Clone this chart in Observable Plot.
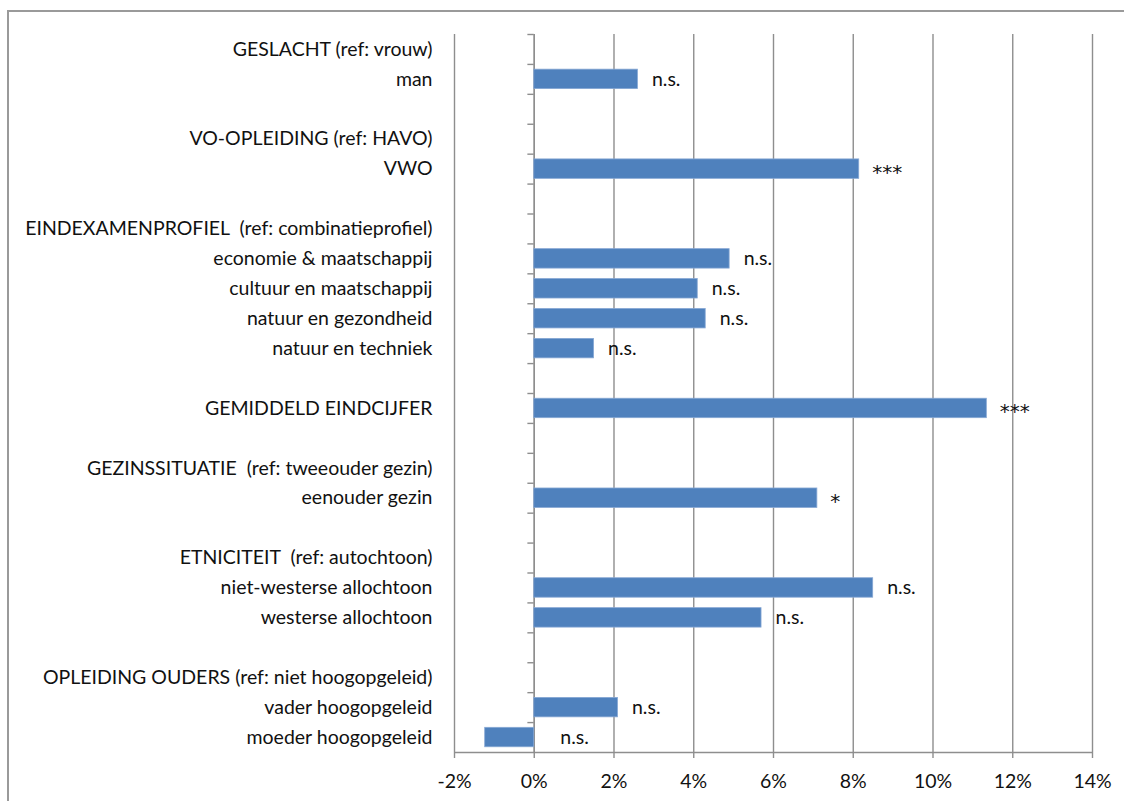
<!DOCTYPE html>
<html>
<head>
<meta charset="utf-8">
<script src="https://cdn.jsdelivr.net/npm/d3@7"></script>
<script src="https://cdn.jsdelivr.net/npm/@observablehq/plot@0.6"></script>
<style>
  html, body { margin: 0; padding: 0; background: #fff; overflow: hidden; }
  #wrap { position: relative; width: 1124px; height: 801px; }
  #border { position: absolute; left: 7px; top: 10px; width: 1200px; height: 900px;
            border-left: 2px solid #9a9a9a; border-top: 2px solid #9a9a9a; box-sizing: border-box; }
  #chart { position: absolute; left: 0; top: 0; }
</style>
</head>
<body>
<div id="wrap"><div id="border"></div><div id="chart"></div></div>
<script>
// Row labels (top to bottom); empty strings are spacer rows
const rowLabels = [
  "GESLACHT (ref: vrouw)", "man", "",
  "VO-OPLEIDING (ref: HAVO)", "VWO", "",
  "EINDEXAMENPROFIEL  (ref: combinatieprofiel)", "economie & maatschappij", "cultuur en maatschappij",
  "natuur en gezondheid", "natuur en techniek", "",
  "GEMIDDELD EINDCIJFER", "",
  "GEZINSSITUATIE  (ref: tweeouder gezin)", "eenouder gezin", "",
  "ETNICITEIT  (ref: autochtoon)", "niet-westerse allochtoon", "westerse allochtoon", "",
  "OPLEIDING OUDERS (ref: niet hoogopgeleid)", "vader hoogopgeleid", "moeder hoogopgeleid"
];
// Bars: category and value (%)
const barCategories = [
  "man", "VWO", "economie & maatschappij", "cultuur en maatschappij", "natuur en gezondheid",
  "natuur en techniek", "GEMIDDELD EINDCIJFER", "eenouder gezin", "niet-westerse allochtoon",
  "westerse allochtoon", "vader hoogopgeleid", "moeder hoogopgeleid"
];
const barValues = [2.6, 8.15, 4.9, 4.1, 4.3, 1.5, 11.35, 7.1, 8.5, 5.7, 2.1, -1.23];
const significance = ["n.s.", "***", "n.s.", "n.s.", "n.s.", "n.s.", "***", "*", "n.s.", "n.s.", "n.s.", "n.s."];
const xTicks = [-2, 0, 2, 4, 6, 8, 10, 12, 14];

const bars = barCategories.map((c, k) => ({
  label: c, row: rowLabels.indexOf(c), value: barValues[k], sig: significance[k]
}));
const labelRows = rowLabels.map((l, i) => i).filter(i => rowLabels[i] !== "");
const boundaries = d3.range(-0.5, rowLabels.length - 1, 1);
const bottom = rowLabels.length - 0.5;
const grey = "#8e8e8e";
const font = "Lato, 'Open Sans', sans-serif";
const fs = 19.5;

const chart = Plot.plot({
  width: 1124,
  height: 801,
  marginLeft: 454,
  marginRight: 32,
  marginTop: 34,
  marginBottom: 49,
  style: { fontFamily: font, fontSize: fs + "px", color: "#111", background: "transparent" },
  x: { domain: [-2, 14] },
  y: { domain: [-0.5, bottom], reverse: true },
  marks: [
    Plot.gridX(xTicks, { stroke: grey, strokeOpacity: 1, strokeWidth: 1.4 }),
    Plot.ruleY([bottom], { stroke: grey, strokeWidth: 1.4 }),
    Plot.ruleX([0], { stroke: grey, strokeWidth: 1.4 }),
    Plot.ruleY(boundaries, { x1: -0.16, x2: 0, stroke: grey, strokeWidth: 1.4 }),
    Plot.rect(bars, {
      x1: 0, x2: "value",
      y1: d => d.row - 0.325, y2: d => d.row + 0.325,
      fill: "#4f81bd", stroke: "#86a7d4", strokeWidth: 0.8
    }),
    Plot.text(bars.filter(d => d.sig === "n.s." && d.value >= 0), {
      x: "value", y: "row", text: "sig",
      dx: 14, textAnchor: "start", fontSize: fs, fill: "#111"
    }),
    Plot.text(bars.filter(d => d.sig === "n.s." && d.value < 0), {
      x: 0, y: "row", text: "sig",
      dx: 26, textAnchor: "start", fontSize: fs, fill: "#111"
    }),
    Plot.text(bars.filter(d => d.sig !== "n.s."), {
      x: d => Math.max(d.value, 0), y: "row", text: "sig",
      dx: 13, dy: 3, textAnchor: "start", fontSize: 20, fontFamily: "'DejaVu Sans', sans-serif",
      letterSpacing: "3px", fill: "#111"
    }),
    Plot.axisX(xTicks, {
      tickFormat: d => d + "%", tickSize: 6, tickPadding: 16, stroke: grey,
      strokeWidth: 1.4, fontSize: fs, label: null
    }),
    Plot.axisY(labelRows, {
      tickFormat: i => rowLabels[i], tickSize: 0, tickPadding: 22, fontSize: fs, label: null
    })
  ]
});
document.getElementById("chart").appendChild(chart);
</script>
</body>
</html>
